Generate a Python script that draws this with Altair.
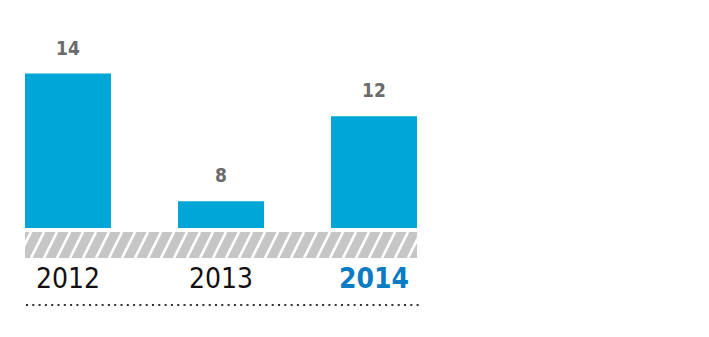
import altair as alt
import pandas as pd

years = ["2012", "2013", "2014"]
values = [14, 8, 12]
highlight_year = "2014"

BASE = 6.75      # truncated baseline of the value axis
TOP = 17.45

df = pd.DataFrame({"year": years, "value": values})

W = 392
H = 310
FONT = "Liberation Sans Narrow, DejaVu Sans Condensed, sans-serif"

xband = alt.X("year:N", sort=years, axis=None,
              scale=alt.Scale(paddingInner=0.438, paddingOuter=0))
yscale = alt.Scale(domain=[BASE, TOP], range=[228, 0], zero=False, nice=False)

base = alt.Chart(df)

bars = base.mark_bar(color="#00a6d6").encode(
    x=xband,
    y=alt.Y("value:Q", scale=yscale, axis=None),
    y2=alt.Y2(datum=BASE),
)

value_labels = base.mark_text(
    font=FONT, fontSize=19, fontWeight="bold", color="#6b6b6b",
    baseline="alphabetic", dy=-19,
).encode(
    x=xband,
    y=alt.Y("value:Q", scale=yscale, axis=None),
    text="value:Q",
)

year_labels = base.transform_filter(
    alt.datum.year != highlight_year
).mark_text(
    font=FONT, fontSize=28, fontWeight=200, color="#111111",
    baseline="alphabetic",
).encode(
    x=xband,
    y=alt.value(288),
    text="year:N",
)

year_label_hl = base.transform_filter(
    alt.datum.year == highlight_year
).mark_text(
    font=FONT, fontSize=28, fontWeight="bold", color="#0a7cc4",
    baseline="alphabetic",
).encode(
    x=xband,
    y=alt.value(288),
    text="year:N",
)

main = alt.layer(bars, value_labels, year_labels, year_label_hl)

band = alt.Chart(alt.Data(values=[{"k": 1}])).mark_rect(color="#c6c6c6").encode(
    x=alt.value(0), x2=alt.value(W), y=alt.value(232), y2=alt.value(258)
)

stripes = alt.Chart(alt.sequence(0, 34, as_="i")).transform_calculate(
    x0="datum.i * 13 - 20", x1="datum.i * 13 - 7"
).mark_rule(color="white", strokeWidth=2.6, clip=True).encode(
    x=alt.X("x0:Q", scale=alt.Scale(domain=[0, W], nice=False, zero=False), axis=None),
    x2="x1:Q",
    y=alt.value(258),
    y2=alt.value(232),
)

dots = alt.Chart(alt.Data(values=[{"k": 1}])).mark_rule(
    color="#333333", strokeWidth=2, strokeDash=[2, 4.3]
).encode(
    x=alt.value(1), x2=alt.value(396), y=alt.value(305)
)

chart = alt.layer(
    band, stripes, main, dots
).resolve_scale(x="independent").properties(
    width=W, height=H,
    autosize=alt.AutoSizeParams(type="none"),
    padding={"left": 25, "top": 0, "right": 20, "bottom": 0},
).configure_view(stroke=None)

chart.save("out.html", embed_options={"renderer": "svg", "actions": False})
